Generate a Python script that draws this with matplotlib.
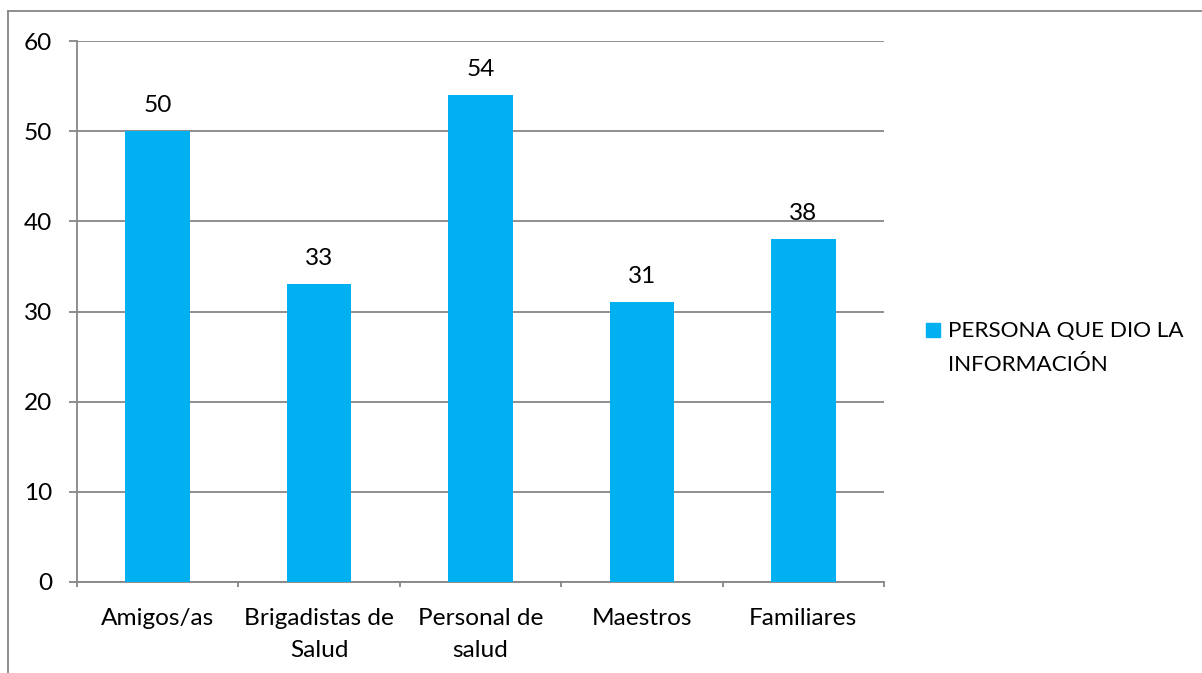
import matplotlib.pyplot as plt
from matplotlib.patches import Rectangle
from matplotlib.lines import Line2D

categories = ["Amigos/as", "Brigadistas de\nSalud", "Personal de\nsalud", "Maestros", "Familiares"]
values = [50, 33, 54, 31, 38]
yticks = [0, 10, 20, 30, 40, 50, 60]
series_name = "PERSONA QUE DIO LA\nINFORMACIÓN"

bar_color = "#00B0F0"
grid_color = "#868686"
fs = 17.6

plt.rcParams["font.family"] = ["Lato", "DejaVu Sans"]

fig = plt.figure(figsize=(12.02, 6.73), dpi=100)
W, H = 1202, 673
px = 72 / 100  # points per pixel

# plot area in pixels: x 77..884, y 41..582
ax = fig.add_axes([77 / W, 1 - 582 / H, (884 - 77) / W, (582 - 41) / H])

x = range(len(categories))
ax.bar(x, values, width=0.4, color=bar_color, zorder=3)
for i, v in zip(x, values):
    ax.annotate(str(v), (i, v), xytext=(0, 19 * px), textcoords="offset points",
                ha="center", va="baseline", fontsize=fs, color="black")

ax.set_xlim(-0.5, len(categories) - 0.5)
ax.set_ylim(0, 60)
ax.set_yticks(yticks)
ax.set_yticklabels([str(t) for t in yticks], fontsize=fs)
ax.yaxis.grid(True, color=grid_color, linewidth=1.3, zorder=0)

# category labels, one line at a time: baselines 43px and 75px below the axis
ax.set_xticks([])
for i, c in zip(x, categories):
    for k, line in enumerate(c.split("\n")):
        ax.annotate(line, (i, 0), xycoords=("data", "axes fraction"),
                    xytext=(0, -(43 + 32 * k) * px), textcoords="offset points",
                    ha="center", va="baseline", fontsize=fs)
# category boundary ticks
ax.set_xticks([i - 0.5 for i in range(len(categories) + 1)], minor=True)
ax.tick_params(axis="x", which="minor", length=5 * px, color=grid_color, width=1.3,
               direction="out")
ax.tick_params(axis="y", length=8 * px, color=grid_color, width=1.3, pad=17 * px)

for side in ["top", "right"]:
    ax.spines[side].set_visible(False)
for side in ["left", "bottom"]:
    ax.spines[side].set_color(grid_color)
    ax.spines[side].set_linewidth(1.3)

# legend
fig.patches.append(Rectangle((926 / W, 1 - 337 / H), 14 / W, 14 / H,
                             transform=fig.transFigure, color=bar_color))
for k, line in enumerate(series_name.split("\n")):
    fig.text(948 / W, 1 - (337 + 34 * k) / H, line, fontsize=16.2,
             va="baseline", ha="left")

# outer chart border (left and top)
fig.add_artist(Line2D([8 / W, 8 / W], [0, 1 - 11 / H], transform=fig.transFigure,
                      color=grid_color, linewidth=1.3))
fig.add_artist(Line2D([8 / W, 1], [1 - 11 / H, 1 - 11 / H], transform=fig.transFigure,
                      color=grid_color, linewidth=1.3))

fig.savefig("out.png", dpi=100)
